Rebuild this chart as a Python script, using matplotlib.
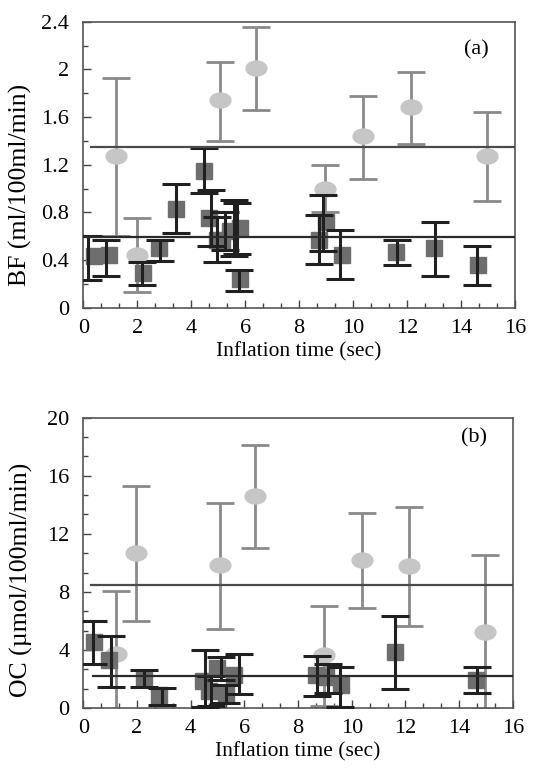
import numpy as np
import matplotlib.pyplot as plt
from matplotlib.path import Path
from matplotlib.transforms import Affine2D
from matplotlib.ticker import MultipleLocator

plt.rcParams['font.family'] = ['Liberation Serif', 'DejaVu Serif']

# x positions of the light grey (circle) series, shared by both panels
circ_x = [1.22, 1.98, 5.08, 6.41, 8.96, 10.38, 12.15, 14.97]

# (a) BF - circles
a_circ_y = [1.27, 0.44, 1.74, 2.01, 1.00, 1.44, 1.68, 1.27]
a_circ_lo = [0.60, 0.13, 1.40, 1.66, 0.80, 1.08, 1.375, 0.895]
a_circ_hi = [1.925, 0.75, 2.06, 2.355, 1.20, 1.78, 1.98, 1.644]

# (a) BF - squares
a_sq_x = [0.39, 0.97, 2.21, 2.81, 3.45, 4.46, 4.67, 4.97, 5.15, 5.45, 5.82, 5.82,
          8.72, 8.99, 9.60, 11.60, 12.99, 14.63]
a_bar_x = [0.18, 0.85, 2.16, 2.85, 3.42, 4.46, 4.73, 4.97, 5.27, 5.58, 5.70, 5.76,
           8.72, 8.87, 9.51, 11.61, 13.03, 14.61]
a_sq_y = [0.43, 0.44, 0.29, 0.50, 0.83, 1.15, 0.75, 0.57, 0.55, 0.64, 0.67, 0.24,
          0.57, 0.72, 0.44, 0.47, 0.50, 0.355]
a_sq_lo = [0.23, 0.27, 0.19, 0.39, 0.63, 0.965, 0.52, 0.38, 0.48, 0.43, 0.45, 0.14,
           0.37, 0.475, 0.24, 0.355, 0.27, 0.19]
a_sq_hi = [0.60, 0.57, 0.38, 0.57, 1.04, 1.34, 0.99, 0.76, 0.80, 0.90, 0.88, 0.32,
           0.78, 0.945, 0.65, 0.57, 0.72, 0.52]
a_means = [1.35, 0.59]
a_mean_start = [0.3, 0.0]

# (b) OC - circles
b_circ_y = [3.75, 10.67, 9.83, 14.63, 3.67, 10.17, 9.78, 5.22]
b_circ_lo = [-0.6, 5.99, 5.45, 11.04, 0.16, 6.89, 5.66, -0.1]
b_circ_hi = [8.03, 15.27, 14.10, 18.13, 7.03, 13.42, 13.83, 10.51]

# (b) OC - squares
b_sq_x = [0.40, 0.97, 2.25, 2.82, 4.45, 4.70, 4.97, 5.33, 5.60, 8.68, 9.05, 9.60, 11.60, 14.62]
b_bar_x = [0.38, 1.03, 2.25, 2.92, 4.55, 4.75, 5.12, 5.33, 5.80, 8.72, 9.10, 9.55, 11.61, 14.67]
b_sq_y = [4.52, 3.30, 2.05, 0.87, 1.85, 1.20, 2.75, 0.95, 2.30, 2.30, 2.10, 1.55, 3.83, 1.93]
b_sq_lo = [3.02, 1.42, 1.47, 0.23, 0.10, 0.15, 1.90, 0.35, 0.93, 0.81, 1.00, 0.10, 1.28, 1.00]
b_sq_hi = [6.00, 4.99, 2.64, 1.40, 4.00, 2.20, 3.50, 1.60, 3.71, 3.55, 3.00, 2.85, 6.33, 2.85]
b_means = [8.45, 2.20]
b_mean_start = [0.3, 0.36]

oval = Path.unit_circle().transformed(Affine2D().scale(1.0, 0.72))


def panel(ax, cy, clo, chi, sx, bx, sy, slo, shi, means, mstart, tag, ylab, ymax, ymaj, ynsub):
    cy, clo, chi = np.array(cy), np.array(clo), np.array(chi)
    sy, slo, shi = np.array(sy), np.array(slo), np.array(shi)
    ax.errorbar(circ_x, cy, yerr=[cy - clo, chi - cy], fmt='none', ecolor='#8a8a8a',
                elinewidth=2.0, capsize=10, capthick=2.0, zorder=2)
    ax.plot(circ_x, cy, ls='none', marker=oval, ms=15, color='#c6c6c6', zorder=3)
    ax.plot(sx, sy, ls='none', marker='s', ms=11.5, color='#6e6e6e', zorder=4)
    ax.errorbar(bx, sy, yerr=[sy - slo, shi - sy], fmt='none', ecolor='#202020',
                elinewidth=2.2, capsize=10, capthick=2.2, zorder=5)
    ax.plot([mstart[0], 16], [means[0], means[0]], color='#4a4a4a', lw=1.6, zorder=6)
    ax.plot([mstart[1], 16], [means[1], means[1]], color='#2a2a2a', lw=1.6, zorder=6)

    ax.set_xlim(0, 16)
    ax.set_ylim(0, ymax)
    ax.xaxis.set_major_locator(MultipleLocator(2))
    ax.xaxis.set_minor_locator(MultipleLocator(2 / 3))
    ax.yaxis.set_major_locator(MultipleLocator(ymaj))
    ax.yaxis.set_minor_locator(MultipleLocator(ymaj / ynsub))
    ax.tick_params(which='both', direction='in', top=False, right=False,
                   labelsize=16, width=1.0, color='#444444')
    ax.tick_params(which='major', length=6)
    ax.tick_params(axis='x', which='major', pad=8)
    ax.tick_params(axis='y', which='major', pad=10)
    ax.tick_params(which='minor', length=3.5)
    for s in ax.spines.values():
        s.set_linewidth(1.2)
        s.set_color('#555555')
    ax.set_xlabel('Inflation time (sec)', fontsize=15.5, labelpad=3)
    ax.set_ylabel(ylab, fontsize=18.5)
    ax.text(0.91, 0.90 if tag == '(a)' else 0.93, tag, transform=ax.transAxes,
            fontsize=16, ha='center', va='center')


fig = plt.figure(figsize=(5.37, 7.75), dpi=100)
ax1 = fig.add_axes([0.155, 0.603, 0.804, 0.369])
ax2 = fig.add_axes([0.155, 0.0865, 0.800, 0.3745])

panel(ax1, a_circ_y, a_circ_lo, a_circ_hi, a_sq_x, a_bar_x, a_sq_y, a_sq_lo, a_sq_hi,
      a_means, a_mean_start, '(a)', 'BF (ml/100ml/min)', 2.4, 0.4, 2)
ax1.yaxis.set_major_formatter(plt.FuncFormatter(lambda v, p: f'{v:g}'))
ax1.yaxis.set_label_coords(-0.118, 0.43)
panel(ax2, b_circ_y, b_circ_lo, b_circ_hi, b_sq_x, b_bar_x, b_sq_y, b_sq_lo, b_sq_hi,
      b_means, b_mean_start, '(b)', 'OC (µmol/100ml/min)', 20, 4, 3)
ax2.yaxis.set_label_coords(-0.118, 0.44)

fig.savefig('out.png', dpi=100)
plt.close(fig)
